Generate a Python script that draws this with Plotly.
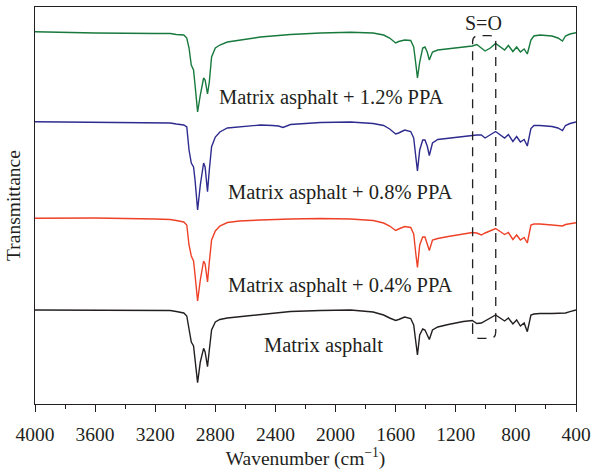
import plotly.graph_objects as go

# Wavenumber grid (cm^-1) shared by all spectra
wavenumber = [4000, 3600, 3200, 3100, 3060, 3010, 2990, 2975, 2960, 2945,
              2935, 2918, 2900, 2878, 2868, 2852, 2840, 2825, 2800, 2770,
              2720, 2640, 2500, 2420, 2380, 2350, 2320, 2300, 2100, 1900,
              1750, 1680, 1640, 1600, 1580, 1540, 1500, 1480, 1465, 1455,
              1440, 1420, 1405, 1390, 1376, 1355, 1320, 1250, 1150, 1090,
              1060, 1030, 1005, 970, 935, 875, 850, 820, 795, 770,
              745, 724, 700, 680, 640, 560, 520, 490, 470, 440, 400]

# Transmittance (arbitrary units, stacked spectra)
ppa_12 = [372.3, 371, 370.5, 370.5, 369.5, 369, 366, 356, 339, 334,
          319, 292, 309, 326, 324, 310, 322, 347, 356, 359,
          362, 364, 367, 368, 368.5, 369, 369.3, 369.5, 371, 371.7,
          371, 369, 366, 361, 362.5, 364, 363.5, 357, 339, 326,
          342, 356, 357, 352, 344, 352, 354, 355, 356.5, 358,
          359.5, 356, 353, 356, 360.5, 354, 358.5, 352.5, 357, 352,
          355, 350, 364, 368, 369, 368, 366, 363, 368, 370, 371.3]

ppa_08 = [282.3, 282, 281.5, 281, 280, 279, 277, 254, 241, 237,
          224, 194, 219, 241, 237, 212.3, 234, 257.3, 267, 272,
          276, 277.3, 279, 278.5, 278, 276.5, 278, 279.5, 281.5, 282,
          280.5, 278.5, 275, 270, 271, 274, 272.5, 266, 246, 233,
          254, 264, 264, 258, 248.5, 261, 264.5, 265.5, 267, 268.5,
          269, 269, 266, 269, 272.5, 266, 269.5, 262.5, 267.5, 262,
          264.5, 258, 275.5, 278.5, 278.5, 277.5, 276, 273.5, 278.5, 280.5, 282]

ppa_04 = [185.7, 186, 185, 184.5, 183.5, 182, 179, 159, 148, 143,
          129, 103, 124, 143, 140, 122, 142, 164, 173, 178,
          181.5, 183, 184, 184.5, 184.7, 184.8, 185, 185, 185.5, 185,
          183.5, 181, 178, 173.5, 175, 177.5, 176.5, 170, 149, 136.5,
          159, 167, 167, 161, 153.5, 164, 165.5, 167.5, 170, 171.5,
          171, 169, 171, 173, 175.5, 169.5, 171.5, 164.5, 169, 164,
          166.5, 161, 179, 180, 180, 179, 178.5, 178, 179.5, 180.5, 181.3]

matrix = [94, 94, 94, 93.5, 92.5, 91, 88, 74, 62, 58,
          44, 21.3, 42, 55.7, 52, 37.3, 54, 74, 82, 84.5,
          86, 87.3, 90, 91, 91.5, 92, 92.2, 92.5, 93.5, 94,
          92, 89, 86, 83.5, 84.5, 87, 85.5, 79, 61, 49,
          69, 75, 74, 69, 64.5, 74, 77, 79.5, 82.5, 83.5,
          80.5, 81, 83, 86, 89, 83, 86, 80, 84, 78,
          81, 72.3, 89, 90, 90.5, 90.5, 90.5, 90.7, 91, 92.3, 94]

series_names = ["Matrix asphalt + 1.2% PPA", "Matrix asphalt + 0.8% PPA",
                "Matrix asphalt + 0.4% PPA", "Matrix asphalt"]
series_values = [ppa_12, ppa_08, ppa_04, matrix]
series_colors = ["#17793c", "#2e2b8e", "#ee4127", "#231f20"]
label_x = [2026, 1969, 1969, 2083]
label_y = [307, 212, 119, 59]

tick_vals = [4000, 3600, 3200, 2800, 2400, 2000, 1600, 1200, 800, 400]
tick_text = [str(v) for v in tick_vals]

# S=O region box (cm^-1 / a.u.)
so_x = [1088, 934]
so_y = [65.7, 368.3]

FONT = "Liberation Serif, Times New Roman, serif"
TXT = "#231f20"

fig = go.Figure()
for name, vals, col in zip(series_names, series_values, series_colors):
    fig.add_trace(go.Scatter(x=wavenumber, y=vals, mode="lines", name=name,
                             line=dict(color=col, width=1.4), showlegend=False))

for name, lx, ly in zip(series_names, label_x, label_y):
    fig.add_annotation(x=lx, y=ly, text=name, showarrow=False,
                       font=dict(family=FONT, size=20.5, color=TXT),
                       xanchor="center", yanchor="middle")

# dashed rounded box around S=O region
x0, x1 = so_x
y0, y1 = so_y
rx, ry = 40, 6
path = (f"M {x0},{y0+ry} L {x0},{y1-ry} Q {x0},{y1} {x0-rx},{y1} "
        f"L {x1+rx},{y1} Q {x1},{y1} {x1},{y1-ry} L {x1},{y0+ry} "
        f"Q {x1},{y0} {x1+rx},{y0} L {x0-rx},{y0} Q {x0},{y0} {x0},{y0+ry} Z")
fig.add_shape(type="path", path=path, xref="x", yref="y",
              line=dict(color="#231f20", width=1.3, dash="9px,7px"))
fig.add_annotation(x=(x0 + x1) / 2 + 5, y=y1 + 13, text="S=O", showarrow=False,
                   font=dict(family=FONT, size=20, color=TXT),
                   xanchor="center", yanchor="middle")

fig.update_layout(
    width=593, height=470, autosize=False,
    margin=dict(l=35, r=16.5, t=7, b=66, autoexpand=False),
    paper_bgcolor="white", plot_bgcolor="white",
    font=dict(family=FONT, size=19, color=TXT),
)
fig.update_xaxes(
    range=[4000, 400], tickvals=tick_vals, ticktext=tick_text,
    ticks="outside", ticklen=7, tickwidth=1, tickcolor="#231f20",
    minor=dict(dtick=200, tick0=0, ticks="outside", ticklen=4, tickwidth=1, tickcolor="#231f20"),
    showline=True, linecolor="#231f20", linewidth=1, mirror=True,
    showgrid=False, zeroline=False, automargin=False,
    ticklabelstandoff=6,
    tickfont=dict(family=FONT, size=19.5, color=TXT),
    title=dict(text="Wavenumber (cm<sup>−1</sup>)", font=dict(family=FONT, size=19.5, color=TXT), standoff=6),
)
fig.update_yaxes(
    range=[0, 397], showticklabels=False, ticks="",
    showline=True, linecolor="#231f20", linewidth=1, mirror=True,
    showgrid=False, zeroline=False, automargin=False,
    title=dict(text="Transmittance", font=dict(family=FONT, size=19.5, color=TXT), standoff=8),
)

fig.write_html("out.html", config={"displayModeBar": False},
               post_script="document.body.style.margin='0';")
